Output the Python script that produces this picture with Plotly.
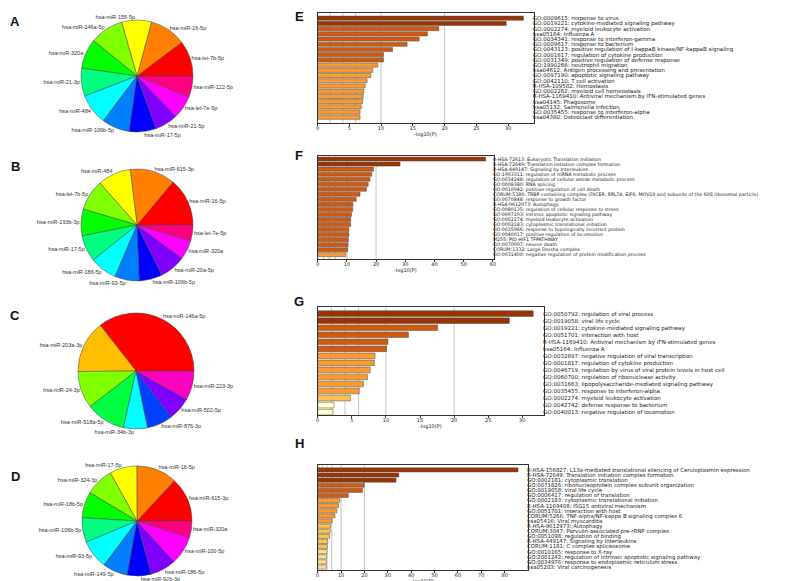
import colorsys
import plotly.graph_objects as go

# ---------------- data ----------------
A_labels = ["hsa-let-7b-5p", "hsa-miR-16-5p", "hsa-miR-155-5p", "hsa-miR-146a-5p", "hsa-miR-320a",
            "hsa-miR-21-3p", "hsa-miR-484", "hsa-miR-106b-5p", "hsa-miR-17-5p", "hsa-miR-21-5p",
            "hsa-let-7e-5p", "hsa-miR-122-5p"]
A_values = [37, 38, 31, 35, 31, 29, 32, 29, 28, 24, 24, 22]

B_labels = ["hsa-miR-16-5p", "hsa-miR-615-3p", "hsa-miR-484", "hsa-let-7b-5p", "hsa-miR-193b-3p",
            "hsa-miR-17-5p", "hsa-miR-186-5p", "hsa-miR-93-5p", "hsa-miR-106b-5p", "hsa-miR-20a-5p",
            "hsa-miR-320a", "hsa-let-7e-5p"]
B_values = [50, 47, 34.5, 32, 27.7, 27.4, 28.3, 25.5, 24, 27, 20, 16.5]

C_labels = ["hsa-miR-146a-5p", "hsa-miR-203a-3p", "hsa-miR-24-3p", "hsa-miR-518a-5p",
            "hsa-miR-34b-3p", "hsa-miR-876-3p", "hsa-miR-502-5p", "hsa-miR-223-3p"]
C_values = [128, 52.5, 37.4, 39.6, 24.1, 25.9, 23.3, 29.2]

D_labels = ["hsa-miR-615-3p", "hsa-miR-16-5p", "hsa-miR-17-5p", "hsa-miR-324-3p", "hsa-miR-18b-5p",
            "hsa-miR-106b-5p", "hsa-miR-93-5p", "hsa-miR-149-5p", "hsa-miR-92b-3p", "hsa-miR-186-5p",
            "hsa-miR-100-5p", "hsa-miR-320a"]
D_values = [47.2, 43, 28.8, 30, 27.5, 26, 30.7, 26.4, 25.3, 27.5, 30.2, 17.3]

E_terms = ["GO:0009615: response to virus",
           "GO:0019221: cytokine-mediated signaling pathway",
           "GO:0002274: myeloid leukocyte activation",
           "hsa05164: Influenza A",
           "GO:0034341: response to interferon-gamma",
           "GO:0009617: response to bacterium",
           "GO:0043123: positive regulation of I-kappaB kinase/NF-kappaB signaling",
           "GO:0001817: regulation of cytokine production",
           "GO:0031349: positive regulation of defense response",
           "GO:1990266: neutrophil migration",
           "hsa04612: Antigen processing and presentation",
           "GO:0097190: apoptotic signaling pathway",
           "GO:0042110: T cell activation",
           "R-HSA-109582: Hemostasis",
           "GO:0002262: myeloid cell homeostasis",
           "R-HSA-1169410: Antiviral mechanism by IFN-stimulated genes",
           "hsa04145: Phagosome",
           "hsa05132: Salmonella infection",
           "GO:0035455: response to interferon-alpha",
           "hsa04380: Osteoclast differentiation"]
E_values = [32.4, 29.7, 19.1, 17.3, 16.0, 14.1, 11.8, 10.4, 10.4, 9.5,
            8.7, 8.4, 7.8, 7.5, 7.3, 7.2, 7.1, 6.9, 6.7, 6.7]

F_terms = ["R-HSA-72613: Eukaryotic Translation Initiation",
           "R-HSA-72649: Translation initiation complex formation",
           "R-HSA-449147: Signaling by Interleukins",
           "GO:1903311: regulation of mRNA metabolic process",
           "GO:0034248: regulation of cellular amide metabolic process",
           "GO:0008380: RNA splicing",
           "GO:0010942: positive regulation of cell death",
           "CORUM:5380: TRBP containing complex (DICER, RPL7A, EIF6, MOV10 and subunits of the 60S ribosomal particle)",
           "GO:0070848: response to growth factor",
           "R-HSA-9612973: Autophagy",
           "GO:0080135: regulation of cellular response to stress",
           "GO:0097193: intrinsic apoptotic signaling pathway",
           "GO:0002274: myeloid leukocyte activation",
           "GO:0002183: cytoplasmic translational initiation",
           "GO:0035966: response to topologically incorrect protein",
           "GO:0040017: positive regulation of locomotion",
           "M255: PID HIF1 TFPATHWAY",
           "GO:0070997: neuron death",
           "CORUM:1332: Large Drosha complex",
           "GO:0031400: negative regulation of protein modification process"]
F_values = [57.5, 28.2, 19.1, 18.5, 17.9, 17.3, 16.7, 14.5, 13.2, 12.1,
            12.0, 11.6, 11.3, 11.3, 10.7, 10.7, 10.5, 10.4, 10.3, 9.6]

G_terms = ["GO:0050792: regulation of viral process",
           "GO:0019058: viral life cycle",
           "GO:0019221: cytokine-mediated signaling pathway",
           "GO:0051701: interaction with host",
           "R-HSA-1169410: Antiviral mechanism by IFN-stimulated genes",
           "hsa05164: Influenza A",
           "GO:0032897: negative regulation of viral transcription",
           "GO:0001817: regulation of cytokine production",
           "GO:0046719: regulation by virus of viral protein levels in host cell",
           "GO:0060700: regulation of ribonuclease activity",
           "GO:0031663: lipopolysaccharide-mediated signaling pathway",
           "GO:0035455: response to interferon-alpha",
           "GO:0002274: myeloid leukocyte activation",
           "GO:0042742: defense response to bacterium",
           "GO:0040013: negative regulation of locomotion"]
G_values = [31.6, 28.1, 17.6, 13.3, 10.3, 10.1, 8.4, 8.3, 7.7, 7.3, 6.7, 6.1, 4.8, 2.4, 2.25]

H_terms = ["R-HSA-156827: L13a-mediated translational silencing of Ceruloplasmin expression",
           "R-HSA-72649: Translation initiation complex formation",
           "GO:0002181: cytoplasmic translation",
           "GO:0071826: ribonucleoprotein complex subunit organization",
           "GO:0019058: viral life cycle",
           "GO:0006417: regulation of translation",
           "GO:0002183: cytoplasmic translational initiation",
           "R-HSA-1169408: ISG15 antiviral mechanism",
           "GO:0051701: interaction with host",
           "CORUM:5266: TNF-alpha/NF-kappa B signaling complex 6",
           "hsa05416: Viral myocarditis",
           "R-HSA-9612973: Autophagy",
           "CORUM:3047: Parvulin-associated pre-rRNP complex",
           "GO:0051098: regulation of binding",
           "R-HSA-449147: Signaling by Interleukins",
           "CORUM:1181: C complex spliceosome",
           "GO:0010165: response to X-ray",
           "GO:2001242: regulation of intrinsic apoptotic signaling pathway",
           "GO:0034976: response to endoplasmic reticulum stress",
           "hsa05203: Viral carcinogenesis"]
H_values = [85.7, 34.7, 33.5, 19.9, 19.2, 13.1, 9.4, 8.9, 8.2, 7.4,
            6.2, 5.5, 5.4, 5.1, 4.3, 4.1, 4.0, 3.8, 3.7, 3.7]

THRESHOLDS = [2, 4, 6, 10, 20]
PANEL_LETTERS = ["A", "B", "C", "D", "E", "F", "G", "H"]
X_TITLE = "-log10(P)"

# ---------------- layout constants (pixels) ----------------
W, H = 789, 581


def fx(px):
    return px / W


def fy(py):
    return 1 - py / H


def rainbow(n):
    out = []
    for i in range(n):
        r, g, b = colorsys.hsv_to_rgb(i / n, 1, 1)
        out.append("rgb(%d,%d,%d)" % (round(r * 255), round(g * 255), round(b * 255)))
    return out


def bin_color(v):
    if v > 20:
        return "#993404"
    if v > 10:
        return "#d05a12"
    if v > 6:
        return "#fb9a30"
    if v > 4:
        return "#fdc250"
    if v > 3:
        return "#fee08c"
    return "#ffffd0"


fig = go.Figure()
annotations = []

# pies: (cx, cy, r) in pixels
pie_geom = [(129, 68, 56), (129, 217, 56), (128, 363, 58), (129, 513, 55)]
pie_data = [(A_labels, A_values), (B_labels, B_values), (C_labels, C_values), (D_labels, D_values)]
for (labels, values), (cx, cy, r) in zip(pie_data, pie_geom):
    # R's pie(): first slice starts at 3 o'clock and slices run counterclockwise.
    # plotly (counterclockwise) ends the first slice at `rotation`, so shift by its angle.
    first_angle = 360.0 * values[0] / sum(values)
    fig.add_trace(go.Pie(
        labels=labels, values=values, sort=False, direction="counterclockwise",
        rotation=90 - first_angle,
        marker=dict(colors=rainbow(len(values)), line=dict(color="#444444", width=0.5)),
        textposition="outside", textinfo="label",
        outsidetextfont=dict(family="Liberation Sans", size=5.5, color="#333333"),
        hoverinfo="label+value",
        domain=dict(x=[fx(cx - r), fx(cx + r)], y=[fy(cy + r), fy(cy - r)]),
        showlegend=False,
    ))

# bar panels: box px (left, right, top, bottom), y-range gaps (top, bottom), dtick, label font size
bar_data = [(E_terms, E_values), (F_terms, F_values), (G_terms, G_values), (H_terms, H_values)]
bar_geom = [
    dict(box=(309.5, 525.7, 4.7, 115.0), gaps=(1.05, 1.1), dtick=5, fs=5.5),
    dict(box=(309.7, 486.0, 148.3, 251.0), gaps=(0.55, 0.85), dtick=10, fs=4.7),
    dict(box=(309.7, 536.0, 299.3, 407.3), gaps=(0.9, 0.45), dtick=5, fs=5.5),
    dict(box=(309.7, 520.0, 457.3, 562.3), gaps=(0.9, 0.65), dtick=10, fs=5.4),
]

shapes = []
for i, ((terms, vals), g) in enumerate(zip(bar_data, bar_geom), start=1):
    xa = "x" if i == 1 else "x%d" % i
    ya = "y" if i == 1 else "y%d" % i
    fig.add_trace(go.Bar(
        x=vals, y=terms, orientation="h", xaxis=xa, yaxis=ya, width=0.8,
        marker=dict(color=[bin_color(v) for v in vals], line=dict(color="rgba(80,80,80,0.85)", width=0.6)),
        showlegend=False,
    ))
    l, r, t, b = g["box"]
    n = len(vals)
    xmax = max(vals) * 1.05
    axkey = "xaxis" if i == 1 else "xaxis%d" % i
    aykey = "yaxis" if i == 1 else "yaxis%d" % i
    fig.layout[axkey] = dict(
        domain=[fx(l), fx(r)], anchor=ya, range=[0, xmax], dtick=g["dtick"], tick0=0,
        showgrid=False, zeroline=False, showline=True, mirror=True, linecolor="#333333", linewidth=1,
        ticks="outside", ticklen=2, tickwidth=0.6, tickcolor="#333333",
        tickfont=dict(family="DejaVu Sans", size=5, color="#222222"),
        ticklabelstandoff=-2, automargin=False,
    )
    fig.layout[aykey] = dict(
        domain=[fy(b), fy(t)], anchor=xa, side="right", type="category",
        tickmode="array", tickvals=terms, ticktext=terms,
        range=[n - 1 + g["gaps"][1], -g["gaps"][0]],
        showgrid=False, zeroline=False, showline=True, mirror=True, linecolor="#333333", linewidth=1,
        ticks="", tickfont=dict(family="DejaVu Sans", size=g["fs"], color="#222222"),
        automargin=False, ticklabelstandoff=-3,
    )
    for v in THRESHOLDS:
        if v < xmax:
            shapes.append(dict(type="line", xref=xa, yref=ya + " domain", x0=v, x1=v, y0=0, y1=1,
                               line=dict(color="#c4c4c4", width=1), layer="below"))
    # x-axis title
    annotations.append(dict(text=X_TITLE, xref=xa + " domain", yref=ya + " domain", x=0.5, y=0,
                            xanchor="center", yanchor="middle", yshift=-11, showarrow=False,
                            font=dict(family="DejaVu Sans", size=5, color="#222222")))

letter_pos = [(7, 14), (7, 158), (7, 307), (7, 468), (291, 9), (291, 147), (291, 293), (291, 435)]
for letter, (x, y) in zip(PANEL_LETTERS, letter_pos):
    annotations.append(dict(text="<b>%s</b>" % letter, x=fx(x), y=fy(y), xref="paper", yref="paper",
                            xanchor="center", yanchor="middle", showarrow=False,
                            font=dict(family="Liberation Sans", size=13, color="#111111")))

fig.update_layout(
    width=W, height=H, margin=dict(l=0, r=0, t=0, b=0),
    paper_bgcolor="white", plot_bgcolor="white",
    shapes=shapes, annotations=annotations, bargap=0.2,
    font=dict(family="DejaVu Sans"),
)

fig.write_html("out.html")
